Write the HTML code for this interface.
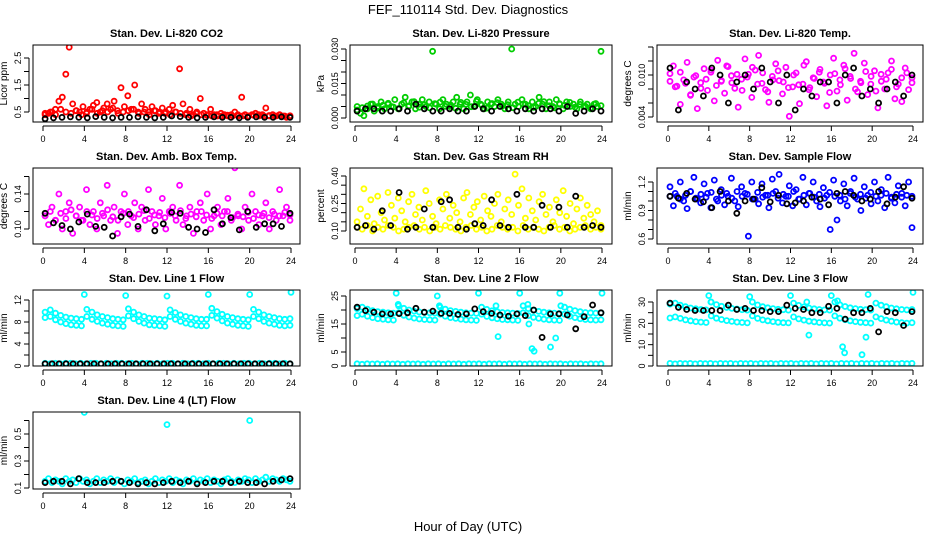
<!DOCTYPE html>
<html><head><meta charset="utf-8"><style>
html,body{margin:0;padding:0;background:#fff;}
svg{display:block;font-family:"Liberation Sans",Arial,sans-serif;}
</style></head><body>
<svg id="chart" width="936" height="540" viewBox="0 0 936 540">
<text x="468" y="14" text-anchor="middle" font-size="13">FEF_110114  Std. Dev. Diagnostics</text>
<text x="468" y="531" text-anchor="middle" font-size="13">Hour of Day (UTC)</text>
</svg>
<script>
// ---------- data ----------
const xTicks=[0,4,8,12,16,20,24];
const co2Red=[0.4,0.45,0.5,0.6,0.9,1.05,1.9,2.9,0.8,0.55,0.5,0.7,0.45,0.6,0.75,0.85,0.5,0.65,0.8,0.6,0.9,0.55,1.4,0.7,1.1,0.6,1.5,0.5,0.8,0.6,0.5,0.7,0.55,0.45,0.65,0.5,0.6,0.75,0.5,2.1,0.8,0.45,0.6,0.4,0.5,1.0,0.45,0.4,0.6,0.4,0.35,0.45,0.4,0.35,0.4,0.5,0.35,1.05,0.4,0.35,0.4,0.45,0.35,0.4,0.65,0.35,0.4,0.35,0.4,0.35,0.3,0.35];
const co2Red2=[0.45,0.5,0.4,0.6,0.5,0.45,0.55,0.4,0.5,0.6,0.45,0.55,0.5,0.65,0.45,0.5,0.55,0.6,0.45,0.5,0.4,0.55,0.5,0.45,0.4,0.5,0.45,0.4,0.35,0.45,0.4,0.38,0.35,0.4,0.36,0.38,0.35,0.4,0.36,0.35,0.38,0.4,0.35,0.37,0.35,0.38,0.35,0.36];
const co2Black=[0.25,0.28,0.3,0.32,0.3,0.28,0.33,0.3,0.28,0.3,0.3,0.32,0.3,0.28,0.3,0.35,0.33,0.3,0.28,0.3,0.32,0.3,0.3,0.28,0.3,0.32,0.3,0.3,0.32,0.3];
const presGreen=[0.005,0.002,0.001,0.004,0.006,0.003,0.005,0.007,0.004,0.006,0.005,0.008,0.004,0.006,0.009,0.005,0.007,0.004,0.006,0.008,0.005,0.007,0.029,0.006,0.004,0.008,0.006,0.005,0.007,0.009,0.006,0.004,0.007,0.010,0.005,0.008,0.006,0.004,0.007,0.006,0.005,0.008,0.006,0.004,0.007,0.030,0.006,0.005,0.008,0.006,0.004,0.007,0.005,0.009,0.006,0.004,0.007,0.005,0.008,0.006,0.004,0.007,0.005,0.006,0.004,0.007,0.005,0.006,0.004,0.006,0.005,0.029];
const presGreen2=[0.0035,0.0045,0.0052,0.0061,0.0043,0.0055,0.0064,0.0048,0.0041,0.0066,0.0053,0.0071,0.0047,0.0058,0.0044,0.0062,0.0069,0.0051,0.0057,0.0042,0.0068,0.0059,0.0049,0.0072,0.0056,0.0043,0.0063,0.0067,0.0052,0.0058,0.0045,0.0069,0.0061,0.0054,0.0046,0.0064,0.0071,0.0053,0.0044,0.0062,0.0055,0.0068,0.0047,0.0059,0.0051,0.0043,0.0063,0.0054];
const presBlack=[0.003,0.004,0.004,0.003,0.003,0.004,0.003,0.006,0.004,0.003,0.003,0.004,0.003,0.003,0.005,0.004,0.003,0.005,0.004,0.003,0.004,0.003,0.004,0.004,0.003,0.005,0.002,0.003,0.004,0.003];
const tempMag=[0.0102,0.0113,0.0084,0.0058,0.0093,0.0118,0.0071,0.0097,0.0052,0.0089,0.0109,0.0078,0.0104,0.0063,0.0121,0.0091,0.0074,0.0112,0.0099,0.0081,0.0054,0.0094,0.0123,0.0101,0.0068,0.0107,0.0128,0.0088,0.0079,0.0061,0.0098,0.0116,0.0092,0.0073,0.0111,0.0041,0.0083,0.0103,0.0059,0.0087,0.0119,0.0082,0.0096,0.0069,0.0108,0.0090,0.0056,0.0100,0.0124,0.0077,0.0086,0.0114,0.0064,0.0095,0.0131,0.0076,0.0089,0.0117,0.0072,0.0098,0.0106,0.0053,0.0091,0.0080,0.0103,0.0120,0.0066,0.0087,0.0062,0.0110,0.0079,0.0096];
const tempMag2=[0.0091,0.0083,0.0104,0.0088,0.0072,0.0099,0.0081,0.0094,0.0107,0.0085,0.0092,0.0113,0.0089,0.0101,0.0078,0.0097,0.0111,0.0087,0.0103,0.0076,0.0093,0.0106,0.0090,0.0082,0.0100,0.0086,0.0114,0.0079,0.0095,0.0104,0.0088,0.0075,0.0102,0.0093,0.0109,0.0098,0.0080,0.0091,0.0105,0.0087,0.0077,0.0101,0.0094,0.0108,0.0083,0.0096,0.0103,0.0089];
const tempBlack=[0.011,0.005,0.009,0.008,0.007,0.011,0.010,0.006,0.009,0.010,0.008,0.011,0.009,0.006,0.010,0.005,0.008,0.007,0.009,0.009,0.006,0.010,0.011,0.007,0.008,0.006,0.008,0.009,0.007,0.010];
const ambMag=[0.115,0.105,0.125,0.110,0.140,0.100,0.120,0.130,0.095,0.115,0.125,0.110,0.145,0.105,0.120,0.100,0.130,0.115,0.150,0.110,0.125,0.095,0.120,0.140,0.105,0.115,0.130,0.100,0.125,0.110,0.145,0.120,0.105,0.115,0.135,0.100,0.120,0.125,0.110,0.150,0.105,0.115,0.125,0.095,0.120,0.130,0.110,0.140,0.100,0.115,0.125,0.105,0.120,0.135,0.110,0.170,0.115,0.100,0.125,0.110,0.140,0.120,0.105,0.115,0.130,0.100,0.120,0.110,0.145,0.115,0.125,0.110];
const ambMag2=[0.115,0.120,0.110,0.118,0.112,0.122,0.115,0.110,0.120,0.116,0.112,0.118,0.122,0.114,0.110,0.118,0.120,0.113,0.117,0.121,0.112,0.116,0.119,0.113,0.118,0.115,0.121,0.112,0.117,0.114,0.120,0.116,0.112,0.118,0.115,0.120,0.113,0.117,0.114,0.119,0.112,0.116,0.118,0.113,0.117,0.115,0.119,0.116];
const ambBlack=[0.118,0.107,0.104,0.100,0.108,0.117,0.103,0.102,0.092,0.114,0.117,0.103,0.122,0.098,0.106,0.119,0.118,0.102,0.100,0.096,0.122,0.106,0.113,0.099,0.120,0.102,0.106,0.106,0.103,0.118];
const rhLow=[0.12,0.11,0.13,0.10,0.12,0.11,0.13,0.12,0.10,0.11,0.12,0.13,0.11,0.12,0.10,0.12,0.11,0.13,0.12,0.11,0.10,0.12,0.13,0.11,0.12,0.10,0.11,0.13,0.12,0.11,0.12,0.10,0.13,0.11,0.12,0.11,0.10,0.12,0.13,0.11,0.12,0.10,0.11,0.12,0.13,0.11,0.12,0.11];
const rhHigh=[0.15,0.22,0.33,0.18,0.27,0.14,0.29,0.20,0.16,0.31,0.24,0.17,0.28,0.21,0.15,0.26,0.30,0.19,0.23,0.16,0.32,0.25,0.18,0.14,0.27,0.22,0.30,0.17,0.24,0.20,0.15,0.28,0.31,0.19,0.23,0.26,0.16,0.29,0.21,0.18,0.25,0.30,0.15,0.22,0.27,0.19,0.41,0.24,0.33,0.17,0.28,0.21,0.16,0.26,0.30,0.19,0.23,0.15,0.27,0.20,0.32,0.18,0.25,0.14,0.22,0.28,0.17,0.24,0.19,0.15,0.21,0.13];
const rhBlack=[0.12,0.13,0.11,0.21,0.13,0.31,0.11,0.12,0.22,0.12,0.26,0.27,0.12,0.11,0.14,0.13,0.27,0.13,0.12,0.30,0.12,0.12,0.24,0.12,0.23,0.12,0.29,0.12,0.13,0.12];
const flowBlue=[1.15,0.95,1.05,1.20,1.00,0.92,1.10,1.25,1.02,0.98,1.18,1.08,0.93,1.22,1.00,1.12,0.96,1.05,1.24,1.00,0.94,1.15,1.08,0.63,1.20,1.02,0.97,1.18,1.06,0.93,1.23,1.10,1.28,0.98,1.05,1.16,0.95,1.12,1.02,1.25,0.96,1.08,1.20,1.00,0.94,1.14,1.06,0.70,1.22,0.80,1.00,1.18,0.95,1.10,1.24,1.02,0.90,1.15,1.06,0.97,1.20,1.00,1.12,0.93,1.25,1.04,0.98,1.16,1.08,0.95,1.20,0.72];
const flowBlue2=[1.05,1.08,1.02,1.06,1.10,1.03,1.07,1.04,1.09,1.02,1.06,1.08,1.03,1.10,1.05,1.07,1.02,1.09,1.04,1.06,1.08,1.03,1.07,1.05,1.10,1.02,1.06,1.08,1.04,1.07,1.03,1.09,1.05,1.06,1.02,1.08,1.04,1.07,1.03,1.09,1.05,1.06,1.08,1.03,1.07,1.04,1.06,1.05];
const flowBlack=[1.05,1.03,1.08,1.02,0.99,0.93,1.10,1.00,0.87,1.00,1.02,1.14,0.99,1.06,0.97,0.98,1.00,1.04,1.02,0.96,1.08,1.10,1.06,1.00,1.02,1.10,0.97,1.04,1.15,1.03];
const l1Upper=[9.8,10.2,9.6,9.2,8.9,8.7,8.6,8.5,10.3,9.8,9.3,9.0,8.8,8.6,8.5,8.4,10.4,9.8,9.3,9.0,8.7,8.6,8.5,8.4,10.2,9.7,9.3,9.0,8.8,8.6,8.5,8.5,10.5,9.9,9.4,9.0,8.8,8.6,8.5,8.4,10.3,9.8,9.3,9.0,8.8,8.6,8.5,8.6];
const l1Lower=[8.8,9.0,8.4,8.0,7.7,7.5,7.4,7.3,9.0,8.5,8.1,7.8,7.6,7.4,7.3,7.2,9.1,8.6,8.1,7.8,7.5,7.4,7.3,7.2,9.0,8.5,8.1,7.8,7.6,7.4,7.3,7.3,9.2,8.7,8.2,7.8,7.6,7.4,7.3,7.2,9.0,8.6,8.1,7.8,7.6,7.4,7.3,7.4];
const l1OutT=[4,8,12,16,20,24];
const l1OutV=[13,12.8,12.7,13,13,13.4];
const l1Zero=[0.5,0.4,0.5,0.4,0.5,0.5,0.4,0.5,0.4,0.5,0.5,0.4,0.5,0.4,0.5,0.5,0.4,0.5,0.4,0.5,0.5,0.4,0.5,0.4,0.5,0.5,0.4,0.5,0.4,0.5,0.5,0.4,0.5,0.4,0.5,0.5,0.4,0.5,0.4,0.5,0.5,0.4,0.5,0.4,0.5,0.5,0.4,0.5,0.4];
const l1Black=[0.4,0.4,0.4,0.4,0.4,0.4,0.4,0.4,0.4,0.4,0.4,0.4,0.4,0.4,0.4,0.4,0.4,0.4,0.4,0.4,0.4,0.4,0.4,0.4,0.4,0.4,0.4,0.4,0.4,0.4,0.4,0.4,0.4,0.4,0.4,0.4];
const l2Upper=[20.5,21,20.3,19.8,19.4,19.2,19.0,18.9,21.5,20.6,20,19.6,19.3,19.1,19,18.9,21,20.3,19.8,19.5,19.2,19.0,18.9,18.8,21,20.2,19.7,19.4,19.1,19,18.9,18.8,21.5,20.5,19.9,19.5,19.2,19,18.9,18.8,21,20.3,19.8,19.4,19.1,19,18.9,19];
const l2Lower=[18,18.5,17.8,17.3,16.9,16.7,16.5,16.4,19,18.1,17.5,17.1,16.8,16.6,16.5,16.4,18.5,17.8,17.3,17,16.7,16.5,16.4,16.3,18.5,17.7,17.2,16.9,16.6,16.5,16.4,16.3,19,18,17.4,17,16.7,16.5,16.4,16.3,18.5,17.8,17.3,16.9,16.6,16.5,16.4,16.5];
const l2OutT=[4,4.2,8,8.2,12,13.7,13.9,16,16.8,16.9,17.2,17.4,19,19.5,19.9,20,24];
const l2OutV=[26,22,25,21.5,26,21.5,10.5,26,22,15,6.2,5.3,6.8,10,26,21.5,26];
const l2Zero=[0.8,0.6,0.8,0.7,0.8,0.6,0.8,0.7,0.8,0.6,0.8,0.7,0.8,0.6,0.8,0.7,0.8,0.6,0.8,0.7,0.8,0.6,0.8,0.7,0.8,0.6,0.8,0.7,0.8,0.6,0.8,0.7,0.8,0.6,0.8,0.7,0.8,0.6,0.8,0.7,0.8,0.6,0.8,0.7,0.8,0.6,0.8,0.7,0.8];
const l2Black=[21,19.8,19.2,18.6,18.6,18.7,19,20.6,19.2,19.6,18.8,18.8,18.4,18.6,20.4,19.4,18.8,18.2,17.8,18.6,18,20,10.2,18.6,18.6,18.2,13.3,17.6,21.8,19];
const l3BandA=[29,29.5,28.5,27.8,27.2,26.8,26.5,26.3,30,28.8,28,27.4,27,26.7,26.4,26.2,30,28.6,27.8,27.3,26.9,26.6,26.4,26.2,29.5,28.4,27.7,27.2,26.8,26.5,26.3,26.2,30,28.7,27.9,27.3,26.9,26.6,26.4,26.2,29.5,28.5,27.8,27.2,26.8,26.5,26.3,26.5];
const l3BandB=[22.5,23,22.3,21.6,21.2,20.8,20.6,20.4,23.5,22.4,21.8,21.3,20.9,20.6,20.4,20.2,23.5,22.3,21.6,21.2,20.8,20.5,20.3,20.2,23,22.1,21.5,21,20.7,20.4,20.2,20.1,23.5,22.4,21.7,21.2,20.8,20.5,20.3,20.1,23,22.2,21.5,21,20.6,20.3,20.1,20.3];
const l3OutT=[4,4.2,8,12,13.6,13.8,16,16.6,17.1,17.3,19,19.4,19.6,24];
const l3OutV=[33,30,32.5,33,30,14.5,33,30.5,9,6.2,5.3,13.5,33.5,34.5];
const l3Zero=[1.2,1.0,1.2,1.1,1.2,1.0,1.2,1.1,1.2,1.0,1.2,1.1,1.2,1.0,1.2,1.1,1.2,1.0,1.2,1.1,1.2,1.0,1.2,1.1,1.2,1.0,1.2,1.1,1.2,1.0,1.2,1.1,1.2,1.0,1.2,1.1,1.2,1.0,1.2,1.1,1.2,1.0,1.2,1.1,1.2,1.0,1.2,1.1,1.2];
const l3Black=[29.5,27.5,26.5,26,26,26,26,28.5,26.5,27,26,26,25.5,25.5,28.5,27,26.5,25,25,28,27,22,25,25,27,16,25.5,25,19,25.5];
const l4Cyan=[0.15,0.17,0.14,0.16,0.15,0.13,0.17,0.15,0.16,0.14,0.17,0.15,0.16,0.13,0.15,0.17,0.14,0.16,0.15,0.17,0.14,0.16,0.15,0.13,0.16,0.15,0.17,0.14,0.15,0.16,0.13,0.15,0.17,0.14,0.16,0.15,0.17,0.14,0.16,0.15,0.13,0.16,0.15,0.17,0.14,0.16,0.15,0.17,0.14,0.16,0.15,0.13,0.16,0.17,0.15,0.14,0.16,0.15,0.17,0.16,0.14,0.17,0.15,0.16,0.18,0.15,0.17,0.16,0.15,0.17,0.16,0.15];
const l4OutT=[4,12,20];
const l4OutV=[0.66,0.57,0.60];
const l4Black=[0.14,0.15,0.15,0.13,0.17,0.14,0.14,0.14,0.15,0.15,0.14,0.13,0.14,0.13,0.14,0.15,0.14,0.15,0.13,0.14,0.15,0.15,0.14,0.15,0.14,0.14,0.13,0.15,0.16,0.17];

// ---------- layout (not data) ----------
const colBox=[[33,300],[350,612],[657,923]];
const colX=[[43,291],[355,602],[668,913]];
const rowBox=[[45,122],[168,244],[290,366],[412,489]];
const C={red:'#ff0000',green:'#00cd00',mag:'#ff00ff',yel:'#ffff00',blue:'#0000ff',cyan:'#00ffff',blk:'#000000'};
const panels=[
 {name:'co2',title:'Stan. Dev. Li-820 CO2',yl:'Licor ppm',c:0,r:0,cal:[0.5,112,2.5,58],ticks:[0.5,1,1.5,2,2.5],labels:['0.5','1.5','2.5'],
  series:[[co2Red2,C.red],[co2Red,C.red],[co2Black,C.blk]]},
 {name:'pressure',title:'Stan. Dev. Li-820 Pressure',yl:'kPa',c:1,r:0,cal:[0,118,0.03,49],ticks:[0,0.005,0.01,0.015,0.02,0.025,0.03],labels:['0.000','0.015','0.030'],
  series:[[presGreen2,C.green],[presGreen,C.green],[presBlack,C.blk]]},
 {name:'temp',title:'Stan. Dev. Li-820 Temp.',yl:'degrees C',c:2,r:0,cal:[0.004,117,0.010,75],ticks:[0.004,0.006,0.008,0.010,0.012,0.014],labels:['0.004','0.010'],
  series:[[tempMag2,C.mag],[tempMag,C.mag],[tempBlack,C.blk]]},
 {name:'amb-box-temp',title:'Stan. Dev. Amb. Box Temp.',yl:'degrees C',c:0,r:1,cal:[0.10,229,0.14,194],ticks:[0.10,0.12,0.14,0.16],labels:['0.10','0.14'],
  series:[[ambMag2,C.mag],[ambMag,C.mag],[ambBlack,C.blk]]},
 {name:'gas-rh',title:'Stan. Dev. Gas Stream RH',yl:'percent',c:1,r:1,cal:[0.10,231,0.40,176],ticks:[0.10,0.15,0.20,0.25,0.30,0.35,0.40],labels:['0.10','0.25','0.40'],
  series:[[rhLow,C.yel],[rhHigh,C.yel],[rhBlack,C.blk]]},
 {name:'sample-flow',title:'Stan. Dev. Sample Flow',yl:'ml/min',c:2,r:1,cal:[0.6,239,1.2,182],ticks:[0.6,0.7,0.8,0.9,1.0,1.1,1.2],labels:['0.6','0.9','1.2'],
  series:[[flowBlue2,C.blue],[flowBlue,C.blue],[flowBlack,C.blk]]},
 {name:'line1-flow',title:'Stan. Dev. Line 1 Flow',yl:'ml/min',c:0,r:2,cal:[0,366,12,300],ticks:[0,2,4,6,8,10,12],labels:['0','4','8','12'],
  series:[[l1Upper,C.cyan],[l1Lower,C.cyan],[l1Zero,C.cyan],[l1OutV,C.cyan,l1OutT],[l1Black,C.blk]]},
 {name:'line2-flow',title:'Stan. Dev. Line 2 Flow',yl:'ml/min',c:1,r:2,cal:[0,366,25,296],ticks:[0,5,10,15,20,25],labels:['0','5','15','25'],
  series:[[l2Upper,C.cyan],[l2Lower,C.cyan],[l2Zero,C.cyan],[l2OutV,C.cyan,l2OutT],[l2Black,C.blk]]},
 {name:'line3-flow',title:'Stan. Dev. Line 3 Flow',yl:'ml/min',c:2,r:2,cal:[0,366,30,302],ticks:[0,5,10,15,20,25,30],labels:['0','10','20','30'],
  series:[[l3BandA,C.cyan],[l3BandB,C.cyan],[l3Zero,C.cyan],[l3OutV,C.cyan,l3OutT],[l3Black,C.blk]]},
 {name:'line4-flow',title:'Stan. Dev. Line 4 (LT) Flow',yl:'ml/min',c:0,r:3,cal:[0.1,488,0.5,434],ticks:[0.1,0.2,0.3,0.4,0.5,0.6],labels:['0.1','0.3','0.5'],
  series:[[l4Cyan,C.cyan],[l4OutV,C.cyan,l4OutT],[l4Black,C.blk]]}
];
const NS='http://www.w3.org/2000/svg';
const svg=document.getElementById('chart');
function mk(tag,attrs,parent){const e=document.createElementNS(NS,tag);for(const k in attrs)e.setAttribute(k,attrs[k]);(parent||svg).appendChild(e);return e;}
panels.forEach((p,pi)=>{
  const [bx0,bx1]=colBox[p.c],[by0,by1]=rowBox[p.r],[x0,x24]=colX[p.c];
  const xs=h=>x0+(h/24)*(x24-x0);
  const [v1,p1,v2,p2]=p.cal;
  const ys=v=>p1+(v-v1)*(p2-p1)/(v2-v1);
  const g=mk('g',{});
  
  
  const t=mk('text',{x:(bx0+bx1)/2,y:by0-8,'text-anchor':'middle','font-size':'11','font-weight':'bold'},g);
  t.textContent=p.title;
  
  
  const cp=mk('clipPath',{id:'cp'+pi},g);
  mk('rect',{x:bx0,y:by0,width:bx1-bx0,height:by1-by0},cp);
  const pts=mk('g',{'clip-path':'url(#cp'+pi+')',fill:'none','stroke-width':'1.8'},g);
  
  
  p.series.forEach(s=>{
    const vals=s[0],col=s[1],times=s[2];
    const n=vals.length;
    vals.forEach((v,i)=>{
      const h=times?times[i]:0.2+i*(23.7/(n-1));
      const c=mk('circle',{cx:xs(h).toFixed(1),cy:ys(v).toFixed(1),r:2.5,stroke:col},pts);
      
      
    });
  });
  const box=mk('rect',{x:bx0,y:by0,width:bx1-bx0,height:by1-by0,fill:'none',stroke:'#000','stroke-width':'1'},g);
  
  
  const xa=mk('g',{stroke:'#000','stroke-width':'1'},g);
  
  
  mk('line',{x1:xs(0),x2:xs(24),y1:by1+4,y2:by1+4},xa);
  xTicks.forEach(h=>{
    mk('line',{x1:xs(h),x2:xs(h),y1:by1+4,y2:by1+9},xa);
    const tl=mk('text',{x:xs(h),y:by1+20,'text-anchor':'middle','font-size':'9',stroke:'none',fill:'#000'},xa);
    tl.textContent=h;
    
    
  });
  const ya=mk('g',{stroke:'#000','stroke-width':'1'},g);
  
  
  const ax=bx0-4;
  mk('line',{x1:ax,x2:ax,y1:ys(p.ticks[0]),y2:ys(p.ticks[p.ticks.length-1])},ya);
  p.ticks.forEach(v=>{
    const y=ys(v);
    mk('line',{x1:ax-5,x2:ax,y1:y,y2:y},ya);
  });
  p.labels.forEach(l=>{
    const y=ys(parseFloat(l));
    const tl=mk('text',{x:0,y:0,transform:`translate(${ax-8},${y}) rotate(-90)`,'text-anchor':'middle','font-size':'9',stroke:'none',fill:'#000'},ya);
    tl.textContent=l;
    
    
  });
  const yt=mk('text',{x:0,y:0,transform:`translate(${bx0-26},${(by0+by1)/2}) rotate(-90)`,'text-anchor':'middle','font-size':'10'},g);
  yt.textContent=p.yl;
  
  
});
</script>
</body></html>
